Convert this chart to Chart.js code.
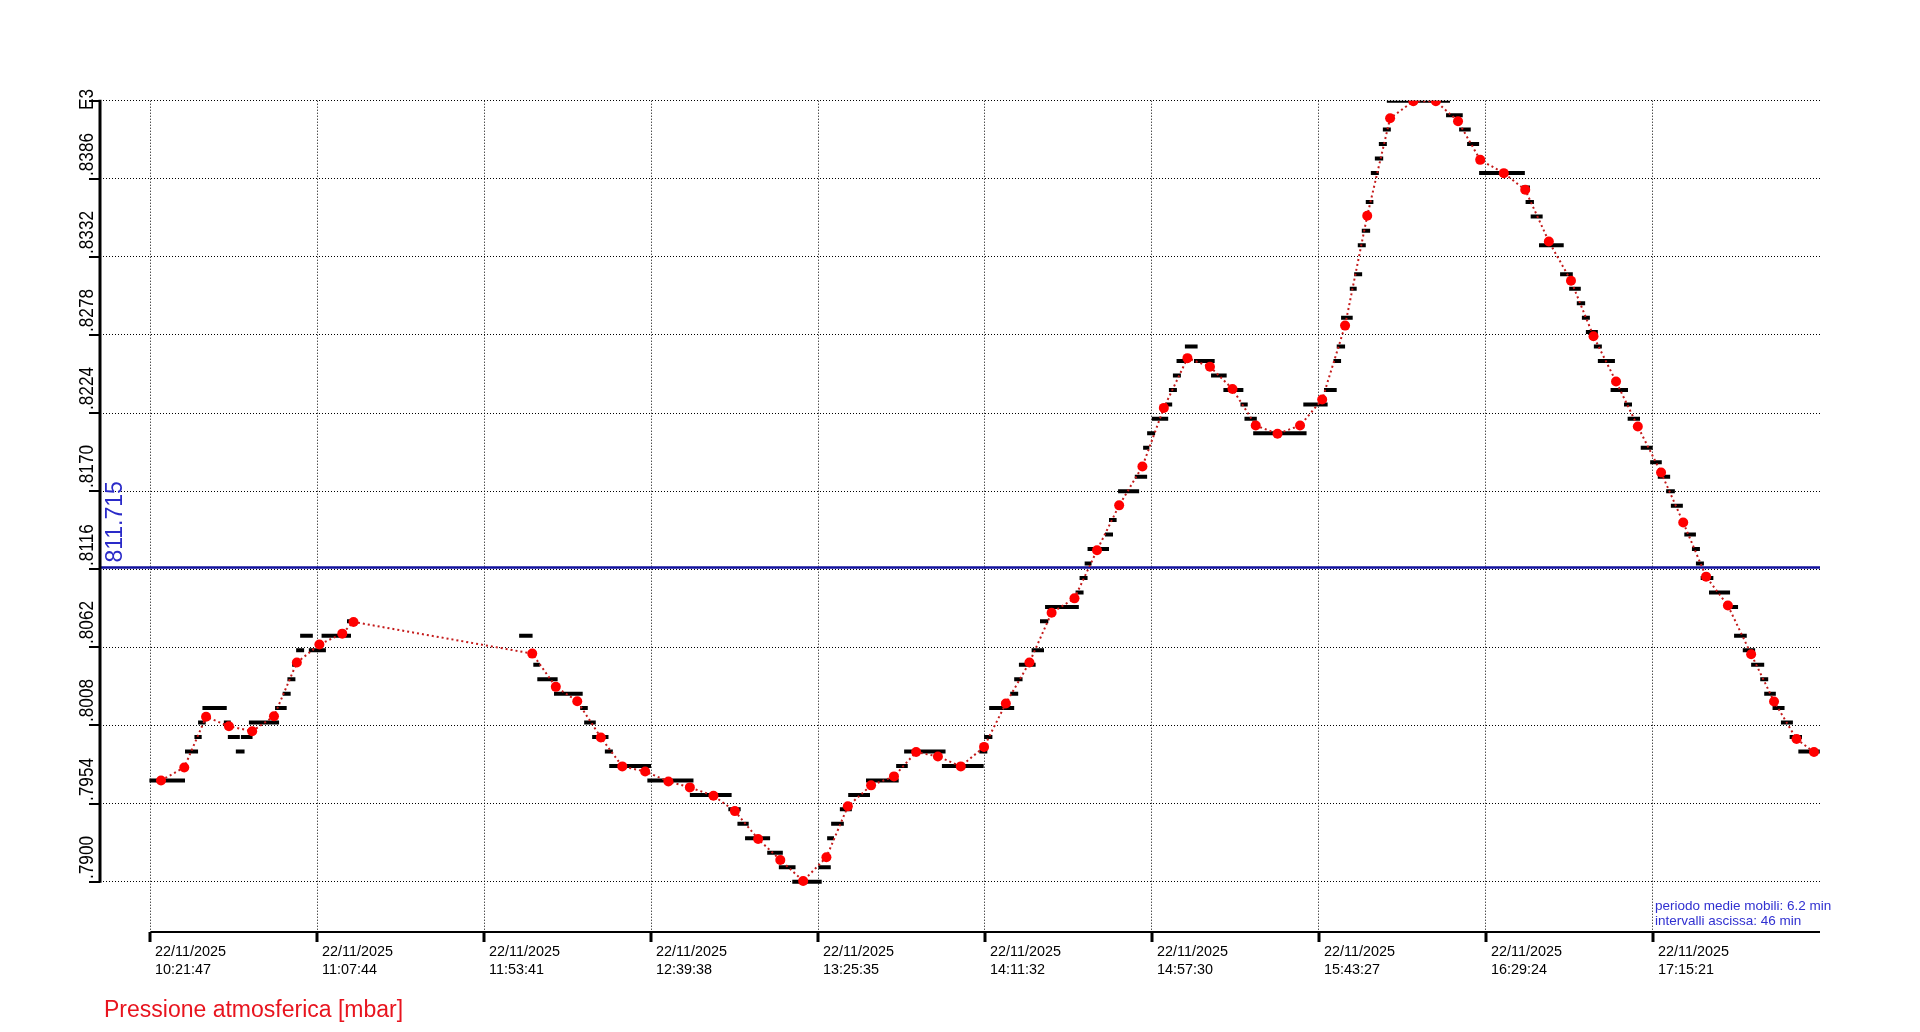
<!DOCTYPE html>
<html lang="it">
<head>
    <meta charset="UTF-8">
    <title>Pressione atmosferica</title>
    <style>
        body {
            margin: 0;
            padding: 0;
            background-color: #fff;
        }
        .chart-box {
            width: 1920px;
            height: 1032px;
        }
    </style>
</head>
<body>
    <div class="chart-box">
        <canvas id="myChart" width="1920" height="1032"></canvas>
    </div>

    <script src="https://cdn.jsdelivr.net/npm/chart.js"></script>
    <script>
        // tempo in minuti dalle 10:21:47 del 22/11/2025
        var xTickValues = [0, 45.95, 91.9, 137.85, 183.8, 229.75, 275.7, 321.65, 367.6, 413.55];
        var xTickLabels = [
            ['22/11/2025', '10:21:47'], ['22/11/2025', '11:07:44'], ['22/11/2025', '11:53:41'],
            ['22/11/2025', '12:39:38'], ['22/11/2025', '13:25:35'], ['22/11/2025', '14:11:32'],
            ['22/11/2025', '14:57:30'], ['22/11/2025', '15:43:27'], ['22/11/2025', '16:29:24'],
            ['22/11/2025', '17:15:21']
        ];
        var yTickValues = [790.0, 795.4, 800.8, 806.2, 811.6, 817.0, 822.4, 827.8, 833.2, 838.6, 844.0];
        var yTickLabels = ['.7900', '.7954', '.8008', '.8062', '.8116', '.8170', '.8224', '.8278', '.8332', '.8386', 'E3'];

        // letture grezze (mbar): inizio, fine, valore
        var rawStart = [-0.3, 9.5, 12.1, 13.1, 14.3, 20.2, 21.3, 23.5, 24.9, 27.1, 34.3, 36.4, 37.7, 39.0, 40.1, 41.2, 43.6, 47.1, 54.1,
            101.5, 105.4, 106.5, 111.1, 118.3, 119.4, 121.6, 125.1, 126.3, 136.8, 148.5, 159.1, 161.6, 163.7, 169.8, 173.0, 176.7, 183.9, 186.3, 187.4,
            189.8, 192.1, 197.0, 205.3, 207.5, 217.9, 228.2, 229.5, 230.9, 236.7, 237.8, 239.1, 242.6, 244.9, 246.3, 254.7, 255.8, 257.2, 258.0, 262.8,
            263.9, 266.4, 271.0, 273.3, 274.4, 275.7, 279.5, 280.4, 281.5, 282.5, 284.8, 287.3, 292.0, 295.4, 300.1, 301.2, 303.6, 317.4, 323.1, 325.7,
            326.6, 327.8, 330.2, 331.4, 332.4, 333.5, 334.6, 336.0, 337.1, 338.2, 339.3, 340.4, 356.7, 360.3, 362.5, 365.8, 377.6, 378.6, 380.0, 382.3,
            388.1, 390.6, 392.7, 394.1, 395.2, 397.4, 398.5, 402.0, 405.7, 406.7, 410.3, 412.9, 415.0, 417.3, 418.6, 422.3, 424.4, 425.5, 426.8, 429.1,
            434.0, 436.0, 438.4, 440.7, 443.2, 444.3, 446.6, 448.9, 451.3, 453.7];
        var rawEnd = [9.5, 13.1, 14.1, 15.2, 21.0, 22.1, 24.6, 25.9, 28.1, 35.4, 37.5, 38.6, 39.9, 40.7, 42.3, 44.7, 48.3, 55.2, 56.8,
            105.2, 107.2, 112.1, 119.0, 120.4, 122.6, 126.1, 127.3, 137.8, 149.5, 160.0, 162.5, 164.7, 170.6, 174.1, 177.6, 184.8, 187.3, 188.2, 190.9,
            193.1, 198.1, 206.0, 208.5, 218.9, 229.4, 230.4, 231.8, 237.8, 238.9, 240.1, 243.7, 246.0, 247.2, 255.6, 256.9, 258.0, 259.1, 263.9, 265.0,
            266.0, 272.2, 274.4, 275.0, 276.6, 280.2, 281.3, 282.6, 283.7, 285.9, 288.3, 293.0, 296.3, 300.9, 302.1, 304.6, 318.3, 324.1, 326.6, 327.8,
            328.9, 331.0, 332.1, 333.6, 334.6, 335.8, 336.7, 338.2, 339.4, 340.4, 341.5, 357.8, 361.3, 363.5, 365.8, 378.4, 379.8, 380.9, 383.3, 389.1,
            391.6, 393.8, 395.0, 396.3, 398.5, 399.6, 403.2, 406.8, 407.9, 410.1, 413.6, 416.1, 418.4, 419.7, 421.9, 425.5, 426.6, 427.7, 430.3, 434.9,
            437.1, 439.5, 441.8, 444.3, 445.4, 447.5, 449.9, 452.2, 454.7, 459.6];
        var rawValue = [797, 799, 800, 801, 802, 801, 800, 799, 800, 801, 802, 803, 804, 805, 806, 807, 806, 807, 808,
            807, 805, 804, 803, 802, 801, 800, 799, 798, 797, 796, 795, 794, 793, 792, 791, 790, 791, 793, 794,
            795, 796, 797, 798, 799, 798, 799, 800, 802, 803, 804, 805, 806, 808, 809, 810, 811, 812, 813, 814,
            815, 817, 818, 820, 821, 822, 823, 824, 825, 826, 827, 826, 825, 824, 823, 822, 821, 823, 824, 826,
            827, 829, 831, 832, 834, 835, 837, 839, 840, 841, 842, 844, 843, 842, 841, 839, 838, 837, 836, 834,
            832, 831, 830, 829, 828, 827, 826, 824, 823, 822, 820, 819, 818, 817, 816, 814, 813, 812, 811, 810,
            809, 807, 806, 805, 804, 803, 802, 801, 800, 799];

        // medie mobili (periodo 6.2 min)
        var avgTime = [2.9, 9.3, 15.3, 21.6, 28.0, 34.0, 40.3, 46.5, 52.8, 55.9,
            105.1, 111.6, 117.5, 124.0, 129.9, 136.2, 142.6, 148.5, 155.0, 160.9,
            167.3, 173.4, 179.7, 186.1, 192.0, 198.4, 204.7, 210.8, 216.8, 223.1,
            229.5, 235.5, 242.0, 248.1, 254.4, 260.6, 266.7, 273.1, 279.0, 285.5,
            291.7, 297.9, 304.3, 310.3, 316.5, 322.6, 328.9, 335.0, 341.3, 347.7,
            353.9, 360.0, 366.1, 372.6, 378.5, 385.0, 391.1, 397.3, 403.5, 409.5,
            415.9, 422.0, 428.3, 434.3, 440.7, 447.0, 453.2, 458.0];
        var avgValue = [797.0, 797.9, 801.4, 800.75, 800.4, 801.44, 805.15, 806.4, 807.15, 807.96,
            805.77, 803.47, 802.48, 799.97, 797.97, 797.62, 796.93, 796.52, 795.94, 794.88,
            792.95, 791.5, 790.05, 791.69, 795.21, 796.66, 797.28, 798.96, 798.66, 797.97,
            799.32, 802.32, 805.15, 808.6, 809.59, 812.91, 816.02, 818.71, 822.76, 826.2,
            825.61, 824.07, 821.54, 820.97, 821.54, 823.34, 828.45, 836.04, 842.79, 843.96,
            843.96, 842.58, 839.91, 838.99, 837.84, 834.27, 831.55, 827.71, 824.58, 821.47,
            818.29, 814.84, 811.09, 809.09, 805.73, 802.46, 799.86, 798.96];

        var meanValue = 811.715;
        var xMin = -13.9, xMax = 459.66;
        var yMin = 786.52, yMax = 844.0;

        var FONT = '"Liberation Sans", Arial, sans-serif';

        function drawLabel(ctx, text, x, y, size, color, rot, sx) {
            ctx.save();
            ctx.translate(x, y);
            if (rot) ctx.rotate(rot);
            ctx.scale(sx || 1, 1);
            ctx.font = size + 'px ' + FONT;
            ctx.fillStyle = color;
            ctx.textAlign = 'left';
            ctx.textBaseline = 'alphabetic';
            ctx.fillText(text, 0, 0);
            ctx.restore();
        }

        // assi, etichette e testi come nel grafico originale
        var decor = {
            id: 'decor',
            afterDraw: function(chart) {
                var ctx = chart.ctx;
                var xs = chart.scales.x, ys = chart.scales.y, area = chart.chartArea;
                var yTop = ys.getPixelForValue(yTickValues[yTickValues.length - 1]);
                var yBot = ys.getPixelForValue(yTickValues[0]);
                ctx.save();
                ctx.strokeStyle = '#000';

                ctx.lineWidth = 3;
                ctx.beginPath();
                ctx.moveTo(area.left, yTop - 1);
                ctx.lineTo(area.left, yBot + 1);
                ctx.stroke();

                ctx.lineWidth = 2;
                yTickValues.forEach(function(v, i) {
                    var py = Math.round(ys.getPixelForValue(v));
                    ctx.beginPath();
                    ctx.moveTo(area.left - 11, py);
                    ctx.lineTo(area.left, py);
                    ctx.stroke();
                    var start = (i === yTickValues.length - 1) ? py + 9 : py - 3;
                    drawLabel(ctx, yTickLabels[i], area.left - 7, start, 21, '#000', -Math.PI / 2, 0.82);
                });

                var x0 = xs.getPixelForValue(xTickValues[0]);
                ctx.lineWidth = 2;
                ctx.beginPath();
                ctx.moveTo(x0, area.bottom);
                ctx.lineTo(area.right, area.bottom);
                ctx.stroke();

                ctx.lineWidth = 3;
                xTickValues.forEach(function(v, i) {
                    var px = Math.round(xs.getPixelForValue(v));
                    ctx.beginPath();
                    ctx.moveTo(px, area.bottom);
                    ctx.lineTo(px, area.bottom + 10);
                    ctx.stroke();
                    drawLabel(ctx, xTickLabels[i][0], px + 5, area.bottom + 24, 15, '#000', 0, 0.96);
                    drawLabel(ctx, xTickLabels[i][1], px + 5, area.bottom + 42, 15, '#000', 0, 0.96);
                });

                var pm = ys.getPixelForValue(meanValue);
                drawLabel(ctx, meanValue.toFixed(3), area.left + 22, pm - 5, 23, '#2a2ac8', -Math.PI / 2, 1);

                drawLabel(ctx, 'Pressione atmosferica [mbar]', 104, 1017, 23, '#e8141e', 0, 1);
                drawLabel(ctx, 'periodo medie mobili: 6.2 min', 1655, 910, 13.5, '#3030d0', 0, 1);
                drawLabel(ctx, 'intervalli ascissa: 46 min', 1655, 925, 13.5, '#3030d0', 0, 1);
                ctx.restore();
            }
        };

        var rawPoints = [];
        for (var i = 0; i < rawValue.length; i++) {
            rawPoints.push({x: rawStart[i], y: rawValue[i]});
            rawPoints.push({x: rawEnd[i], y: rawValue[i]});
            rawPoints.push({x: rawEnd[i], y: null});
        }
        var avgPoints = avgTime.map(function(t, i) { return {x: t, y: avgValue[i]}; });

        var ctx = document.getElementById('myChart').getContext('2d');
        new Chart(ctx, {
            type: 'line',
            data: {
                datasets: [{
                    label: 'medie mobili',
                    data: avgPoints,
                    borderColor: '#c41a1a',
                    borderWidth: 2,
                    borderDash: [2, 3],
                    pointRadius: 5,
                    pointBackgroundColor: '#ff0000',
                    pointBorderWidth: 0,
                    tension: 0
                }, {
                    label: 'media',
                    data: [{x: xMin, y: meanValue}, {x: xMax, y: meanValue}],
                    borderColor: '#12129e',
                    borderWidth: 2.5,
                    pointRadius: 0
                }, {
                    label: 'letture',
                    data: rawPoints,
                    borderColor: '#000',
                    borderWidth: 4,
                    borderCapStyle: 'butt',
                    pointRadius: 0,
                    spanGaps: false
                }]
            },
            options: {
                responsive: false,
                animation: false,
                events: [],
                layout: {padding: {left: 100, right: 100, top: 100.7, bottom: 100}},
                plugins: {legend: {display: false}, tooltip: {enabled: false}},
                scales: {
                    x: {
                        type: 'linear',
                        min: xMin,
                        max: xMax,
                        afterBuildTicks: function(scale) {
                            scale.ticks = xTickValues.map(function(v) { return {value: v}; });
                        },
                        ticks: {display: false},
                        grid: {color: '#000', lineWidth: 1, drawTicks: false},
                        border: {display: false, dash: [1, 2]}
                    },
                    y: {
                        type: 'linear',
                        min: yMin,
                        max: yMax,
                        afterBuildTicks: function(scale) {
                            scale.ticks = yTickValues.map(function(v) { return {value: v}; });
                        },
                        ticks: {display: false},
                        grid: {color: '#000', lineWidth: 1, drawTicks: false},
                        border: {display: false, dash: [1, 2]}
                    }
                }
            },
            plugins: [decor]
        });
    </script>
</body>
</html>
